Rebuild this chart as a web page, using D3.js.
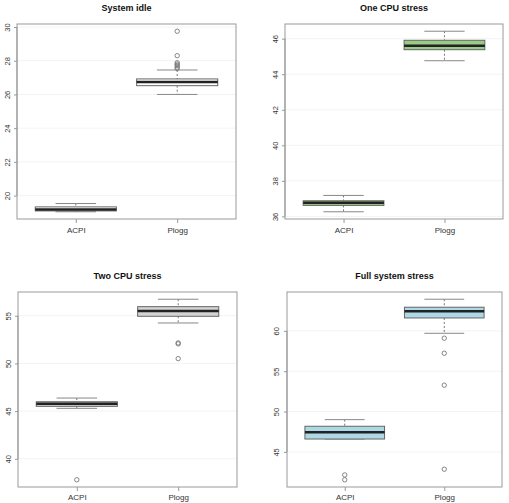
<!DOCTYPE html>
<html>
<head>
<meta charset="utf-8">
<script src="https://cdn.jsdelivr.net/npm/d3@7"></script>
<style>
  body { margin: 0; background: #fff; }
  text { font-family: "Liberation Sans", Arial, sans-serif; }
</style>
</head>
<body>
<script>
// categories
var groups = ["ACPI", "Plogg"];

// panel titles
var titles = ["System idle", "One CPU stress", "Two CPU stress", "Full system stress"];

// five-number summaries [lower whisker, q1, median, q3, upper whisker] per group
var idleStats = [[19.04, 19.09, 19.17, 19.33, 19.53], [26.0, 26.52, 26.74, 26.92, 27.45]];
var oneCpuStats = [[36.26, 36.62, 36.77, 36.88, 37.18], [44.76, 45.38, 45.6, 45.91, 46.42]];
var twoCpuStats = [[45.29, 45.5, 45.77, 45.98, 46.37], [54.24, 54.94, 55.5, 55.95, 56.73]];
var fullStats = [[46.6, 46.6, 47.44, 48.18, 49.0], [59.7, 61.6, 62.44, 62.93, 63.92]];

// outliers per group
var idleOut = [[], [29.75, 28.3, 27.88, 27.8, 27.72, 27.62, 27.54]];
var oneCpuOut = [[], []];
var twoCpuOut = [[37.8], [52.05, 52.15, 50.5]];
var fullOut = [[42.15, 41.55], [59.09, 57.23, 53.27, 42.86]];

// y tick labels
var idleTicks = [20, 22, 24, 26, 28, 30];
var oneCpuTicks = [36, 38, 40, 42, 44, 46];
var twoCpuTicks = [40, 45, 50, 55];
var fullTicks = [45, 50, 55, 60];

// fill colours
var fills = ["#ffffff", "#98cc86", "#d3d3d3", "#add8e6"];

var panels = [
  {title: titles[0], stats: idleStats, out: idleOut, ticks: idleTicks, fill: fills[0],
   box: {x0: 17, x1: 236, y0: 24, y1: 219}, titleY: 11, labY: 230, tickLabX: 8},
  {title: titles[1], stats: oneCpuStats, out: oneCpuOut, ticks: oneCpuTicks, fill: fills[1],
   box: {x0: 285, x1: 503, y0: 24, y1: 219}, titleY: 11, labY: 230, tickLabX: 276},
  {title: titles[2], stats: twoCpuStats, out: twoCpuOut, ticks: twoCpuTicks, fill: fills[2],
   box: {x0: 18, x1: 237, y0: 292, y1: 487}, titleY: 279, labY: 497, tickLabX: 9},
  {title: titles[3], stats: fullStats, out: fullOut, ticks: fullTicks, fill: fills[3],
   box: {x0: 287, x1: 502, y0: 292, y1: 487}, titleY: 279, labY: 497, tickLabX: 277}
];

var svg = d3.select("body").append("svg")
  .attr("width", 509)
  .attr("height", 503);

panels.forEach(function(p) {
  var g = svg.append("g");

  // R style: extend data range by 4%
  var all = [];
  p.stats.forEach(function(s) { all = all.concat(s); });
  p.out.forEach(function(o) { all = all.concat(o); });
  var lo = d3.min(all), hi = d3.max(all), pad = (hi - lo) * 0.04;

  var y = d3.scaleLinear().domain([lo - pad, hi + pad]).range([p.box.y1, p.box.y0]);
  var x = d3.scaleLinear().domain([0.42, 2.58]).range([p.box.x0, p.box.x1]);

  // faint grid
  g.selectAll(".grid").data(p.ticks).enter().append("line")
    .attr("x1", p.box.x0).attr("x2", p.box.x1)
    .attr("y1", function(d) { return y(d); })
    .attr("y2", function(d) { return y(d); })
    .attr("stroke", "#f3f3f3").attr("stroke-width", 1);

  // boxes
  p.stats.forEach(function(s, i) {
    var cx = x(i + 1);
    var bw = x(1.4) - x(1);   // half box width
    var sw = x(1.2) - x(1);   // half staple width

    // whiskers (dashed)
    g.append("line").attr("x1", cx).attr("x2", cx)
      .attr("y1", y(s[4])).attr("y2", y(s[3]))
      .attr("stroke", "#777").attr("stroke-dasharray", "2,2");
    g.append("line").attr("x1", cx).attr("x2", cx)
      .attr("y1", y(s[1])).attr("y2", y(s[0]))
      .attr("stroke", "#777").attr("stroke-dasharray", "2,2");

    // staples
    [s[0], s[4]].forEach(function(v) {
      g.append("line").attr("x1", cx - sw).attr("x2", cx + sw)
        .attr("y1", y(v)).attr("y2", y(v))
        .attr("stroke", "#888").attr("stroke-width", 1);
    });

    // box
    g.append("rect")
      .attr("x", cx - bw).attr("width", bw * 2)
      .attr("y", y(s[3])).attr("height", Math.max(1, y(s[1]) - y(s[3])))
      .attr("fill", p.fill).attr("stroke", "#666").attr("stroke-width", 1);

    // median
    g.append("line").attr("x1", cx - bw).attr("x2", cx + bw)
      .attr("y1", y(s[2])).attr("y2", y(s[2]))
      .attr("stroke", "#222").attr("stroke-width", 2.5);

    // outliers
    g.selectAll(".out" + i).data(p.out[i]).enter().append("circle")
      .attr("cx", cx).attr("cy", function(d) { return y(d); })
      .attr("r", 2.2).attr("fill", "none")
      .attr("stroke", "#777").attr("stroke-width", 0.9);
  });

  // frame
  g.append("rect")
    .attr("x", p.box.x0).attr("y", p.box.y0)
    .attr("width", p.box.x1 - p.box.x0).attr("height", p.box.y1 - p.box.y0)
    .attr("fill", "none").attr("stroke", "#999").attr("stroke-width", 1);

  // y axis
  var yAxis = d3.axisLeft(y).tickValues(p.ticks).tickSize(3).tickPadding(3);
  var ya = g.append("g").attr("transform", "translate(" + p.box.x0 + ",0)").call(yAxis);
  ya.select(".domain").attr("d", "M-0," + y(p.ticks[0]) + "V" + y(p.ticks[p.ticks.length - 1]))
    .attr("stroke", "#999");
  ya.selectAll(".tick line").attr("stroke", "#999");
  ya.selectAll(".tick text")
    .attr("x", null).attr("dy", null)
    .attr("transform", "translate(" + (p.tickLabX - p.box.x0) + ",0) rotate(-90)")
    .attr("text-anchor", "middle")
    .attr("dominant-baseline", "middle")
    .attr("font-size", 7.5).attr("fill", "#333");

  // x axis
  var xAxis = d3.axisBottom(x).tickValues([1, 2]).tickSize(4)
    .tickFormat(function(d) { return groups[d - 1]; });
  var xa = g.append("g").attr("transform", "translate(0," + p.box.y1 + ")").call(xAxis);
  xa.select(".domain").remove();
  xa.selectAll(".tick line").attr("stroke", "#999");
  xa.selectAll(".tick text")
    .attr("y", p.labY - p.box.y1).attr("dy", "0.35em")
    .attr("font-size", 8).attr("fill", "#333");

  // title
  g.append("text")
    .attr("x", (p.box.x0 + p.box.x1) / 2)
    .attr("y", p.titleY)
    .attr("text-anchor", "middle")
    .attr("font-size", 9)
    .attr("font-weight", "bold")
    .attr("fill", "#111")
    .text(p.title);
});
</script>
</body>
</html>
